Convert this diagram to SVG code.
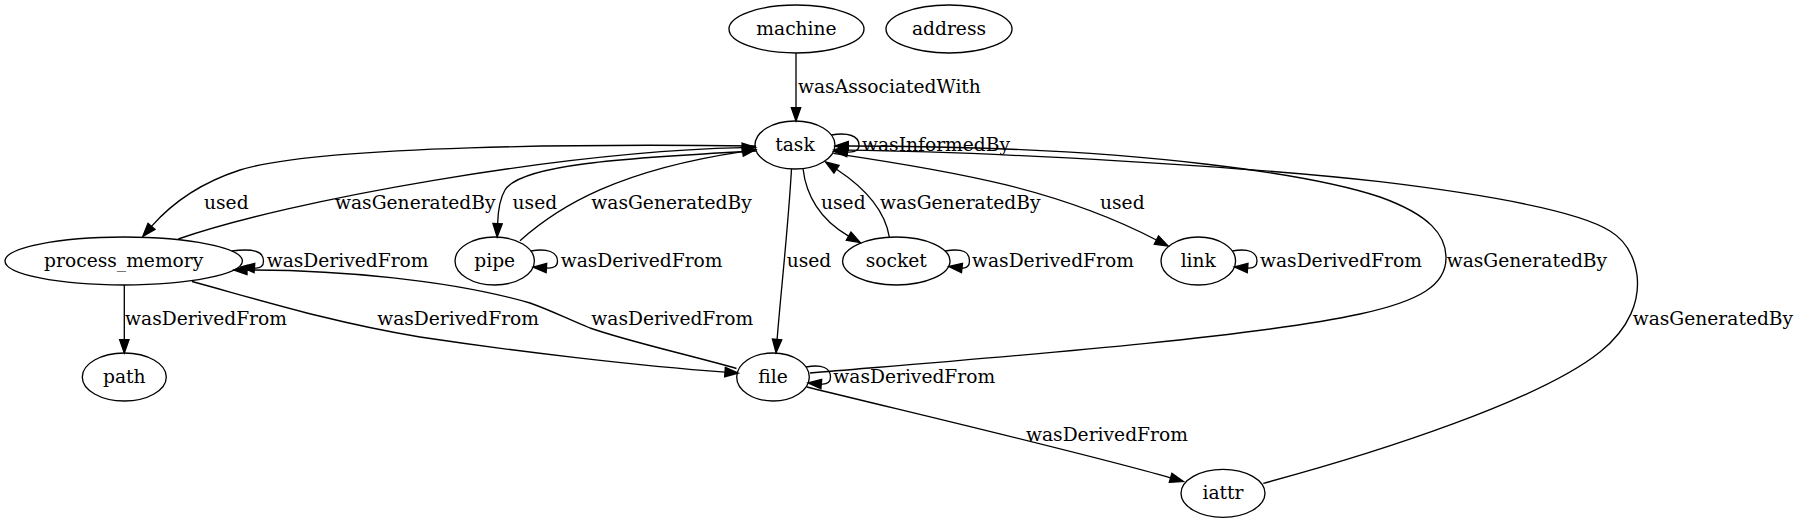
<svg xmlns="http://www.w3.org/2000/svg" width="1800" height="523" viewBox="0 0 1800 523">
<defs>
<marker id="arr" markerUnits="userSpaceOnUse" markerWidth="14" markerHeight="10" viewBox="0 0 14 10" refX="0" refY="5" orient="auto" overflow="visible">
<path d="M0,0.33 L13.3,5 L0,9.67 Z" fill="#000" stroke="#000" stroke-width="1.33"/>
</marker>
</defs>
<style>
.node ellipse{fill:none;stroke:#000;stroke-width:1.33}
text{font-family:"DejaVu Serif",serif;font-size:18.67px;fill:#000}
.node text{text-anchor:middle}
.edge path{fill:none;stroke:#000;stroke-width:1.33;marker-end:url(#arr)}
</style>
<rect width="1800" height="523" fill="#fff"/>
<g id="connectors">
<g class="edge" id="e_machine_task"><path d="M796,53 L796,107.7"/><text x="798" y="92.5">wasAssociatedWith</text></g>
<g class="edge" id="e_task_task"><path d="M831.4,135 C848,132 859,136 859,145 C859,150 856,152.5 847,152"/><text x="862" y="151">wasInformedBy</text></g>
<g class="edge" id="e_task_pm"><path d="M756,146 C600,144 320,145 240,170 C200,183 172,203 151.5,226.4"/><text x="204" y="208.5">used</text></g>
<g class="edge" id="e_pm_task"><path d="M178.3,239 C290,200 560,152 742.2,147.7"/><text x="335" y="208.5">wasGeneratedBy</text></g>
<g class="edge" id="e_task_pipe"><path d="M756,151 C620,158 520,165 505,190 C499,200 498,212 497.6,223.7"/><text x="512.6" y="208.5">used</text></g>
<g class="edge" id="e_pipe_task"><path d="M520,240.7 C560,205 620,170 742.6,151.6"/><text x="591.3" y="208.5">wasGeneratedBy</text></g>
<g class="edge" id="e_task_file"><path d="M791.5,169 C788,230 781,290 777.1,339.4"/><text x="786.7" y="266.5">used</text></g>
<g class="edge" id="e_task_socket"><path d="M803,168.5 C806,195 820,220 848.6,236.1"/><text x="821" y="208.5">used</text></g>
<g class="edge" id="e_socket_task"><path d="M889.3,237 C885,210 865,188 836.5,169.2"/><text x="880" y="208.5">wasGeneratedBy</text></g>
<g class="edge" id="e_task_link"><path d="M833.3,153.3 C960,172 1060,190 1156.4,240"/><text x="1100" y="208.5">used</text></g>
<g class="edge" id="e_file_task"><path d="M810,373 C1000,357 1250,338 1360,314 C1420,301 1446,285 1446,258 C1446,235 1430,215 1380,197 C1320,177 1150,146 848.3,146"/><text x="1446.7" y="266.5">wasGeneratedBy</text></g>
<g class="edge" id="e_iattr_task"><path d="M1263.3,483.3 C1380,452 1540,400 1600,352 C1630,328 1640,300 1637,275 C1634,255 1625,240 1610,231 C1580,212 1490,195 1380,181.7 C1250,167 1000,152 847.3,150.2"/><text x="1632.7" y="324.5">wasGeneratedBy</text></g>
<g class="edge" id="e_pm_pm"><path d="M231.6,251 C255,248 263.5,252 263.5,261 C263.5,266 261,268.5 254.4,268"/><text x="266.7" y="266.5">wasDerivedFrom</text></g>
<g class="edge" id="e_pipe_pipe"><path d="M530.8,251 C547.4,248 557.5,252 557.5,261 C557.5,266 554.5,268.5 546.4,268"/><text x="560.7" y="266.5">wasDerivedFrom</text></g>
<g class="edge" id="e_socket_socket"><path d="M945.1,251 C963,248 969.5,252 969.5,261 C969.5,266 966.5,268.5 962,268"/><text x="972" y="266.5">wasDerivedFrom</text></g>
<g class="edge" id="e_link_link"><path d="M1232.2,251 C1248.6,248 1257,252 1257,261 C1257,266 1254,268.5 1247.6,268"/><text x="1260" y="266.5">wasDerivedFrom</text></g>
<g class="edge" id="e_file_file"><path d="M806,367 C822.3,364 830.5,368 830.5,377 C830.5,382 827.5,384.5 821.3,384"/><text x="833.3" y="382.5">wasDerivedFrom</text></g>
<g class="edge" id="e_pm_path"><path d="M124.3,285 L124.3,339.7"/><text x="125.1" y="324.5">wasDerivedFrom</text></g>
<g class="edge" id="e_pm_file"><path d="M192,281.5 C260,300 330,322 420,337 C520,352 640,366 725,372.1"/><text x="377.2" y="324.5">wasDerivedFrom</text></g>
<g class="edge" id="e_file_pm"><path d="M736.5,368.5 C690,355 630,342 590,328 C565,318 555,312 530,303 C450,280 340,270 247,270"/><text x="591.3" y="324.5">wasDerivedFrom</text></g>
<g class="edge" id="e_file_iattr"><path d="M807,387 C900,410 1080,452 1170.6,477.9"/><text x="1026" y="440.5">wasDerivedFrom</text></g>
</g>
<g id="machine" class="node"><ellipse cx="796.5" cy="29" rx="67.5" ry="24"/><text x="796.5" y="34.5">machine</text></g>
<g id="address" class="node"><ellipse cx="949" cy="29" rx="63" ry="24"/><text x="949" y="34.5">address</text></g>
<g id="task" class="node"><ellipse cx="795" cy="145" rx="40" ry="24"/><text x="795" y="150.5">task</text></g>
<g id="process_memory" class="node"><ellipse cx="123.7" cy="261" rx="118.7" ry="24"/><text x="123.7" y="266.5">process_memory</text></g>
<g id="pipe" class="node"><ellipse cx="494.7" cy="261" rx="39.7" ry="24"/><text x="494.7" y="266.5">pipe</text></g>
<g id="socket" class="node"><ellipse cx="896.3" cy="261" rx="53.7" ry="24"/><text x="896.3" y="266.5">socket</text></g>
<g id="link" class="node"><ellipse cx="1198.3" cy="261" rx="37.3" ry="24"/><text x="1198.3" y="266.5">link</text></g>
<g id="path" class="node"><ellipse cx="124.3" cy="377" rx="42" ry="24"/><text x="124.3" y="382.5">path</text></g>
<g id="file" class="node"><ellipse cx="773" cy="377" rx="36.3" ry="24"/><text x="773" y="382.5">file</text></g>
<g id="iattr" class="node"><ellipse cx="1223" cy="493.3" rx="42" ry="24"/><text x="1223" y="498.8">iattr</text></g>
</svg>
